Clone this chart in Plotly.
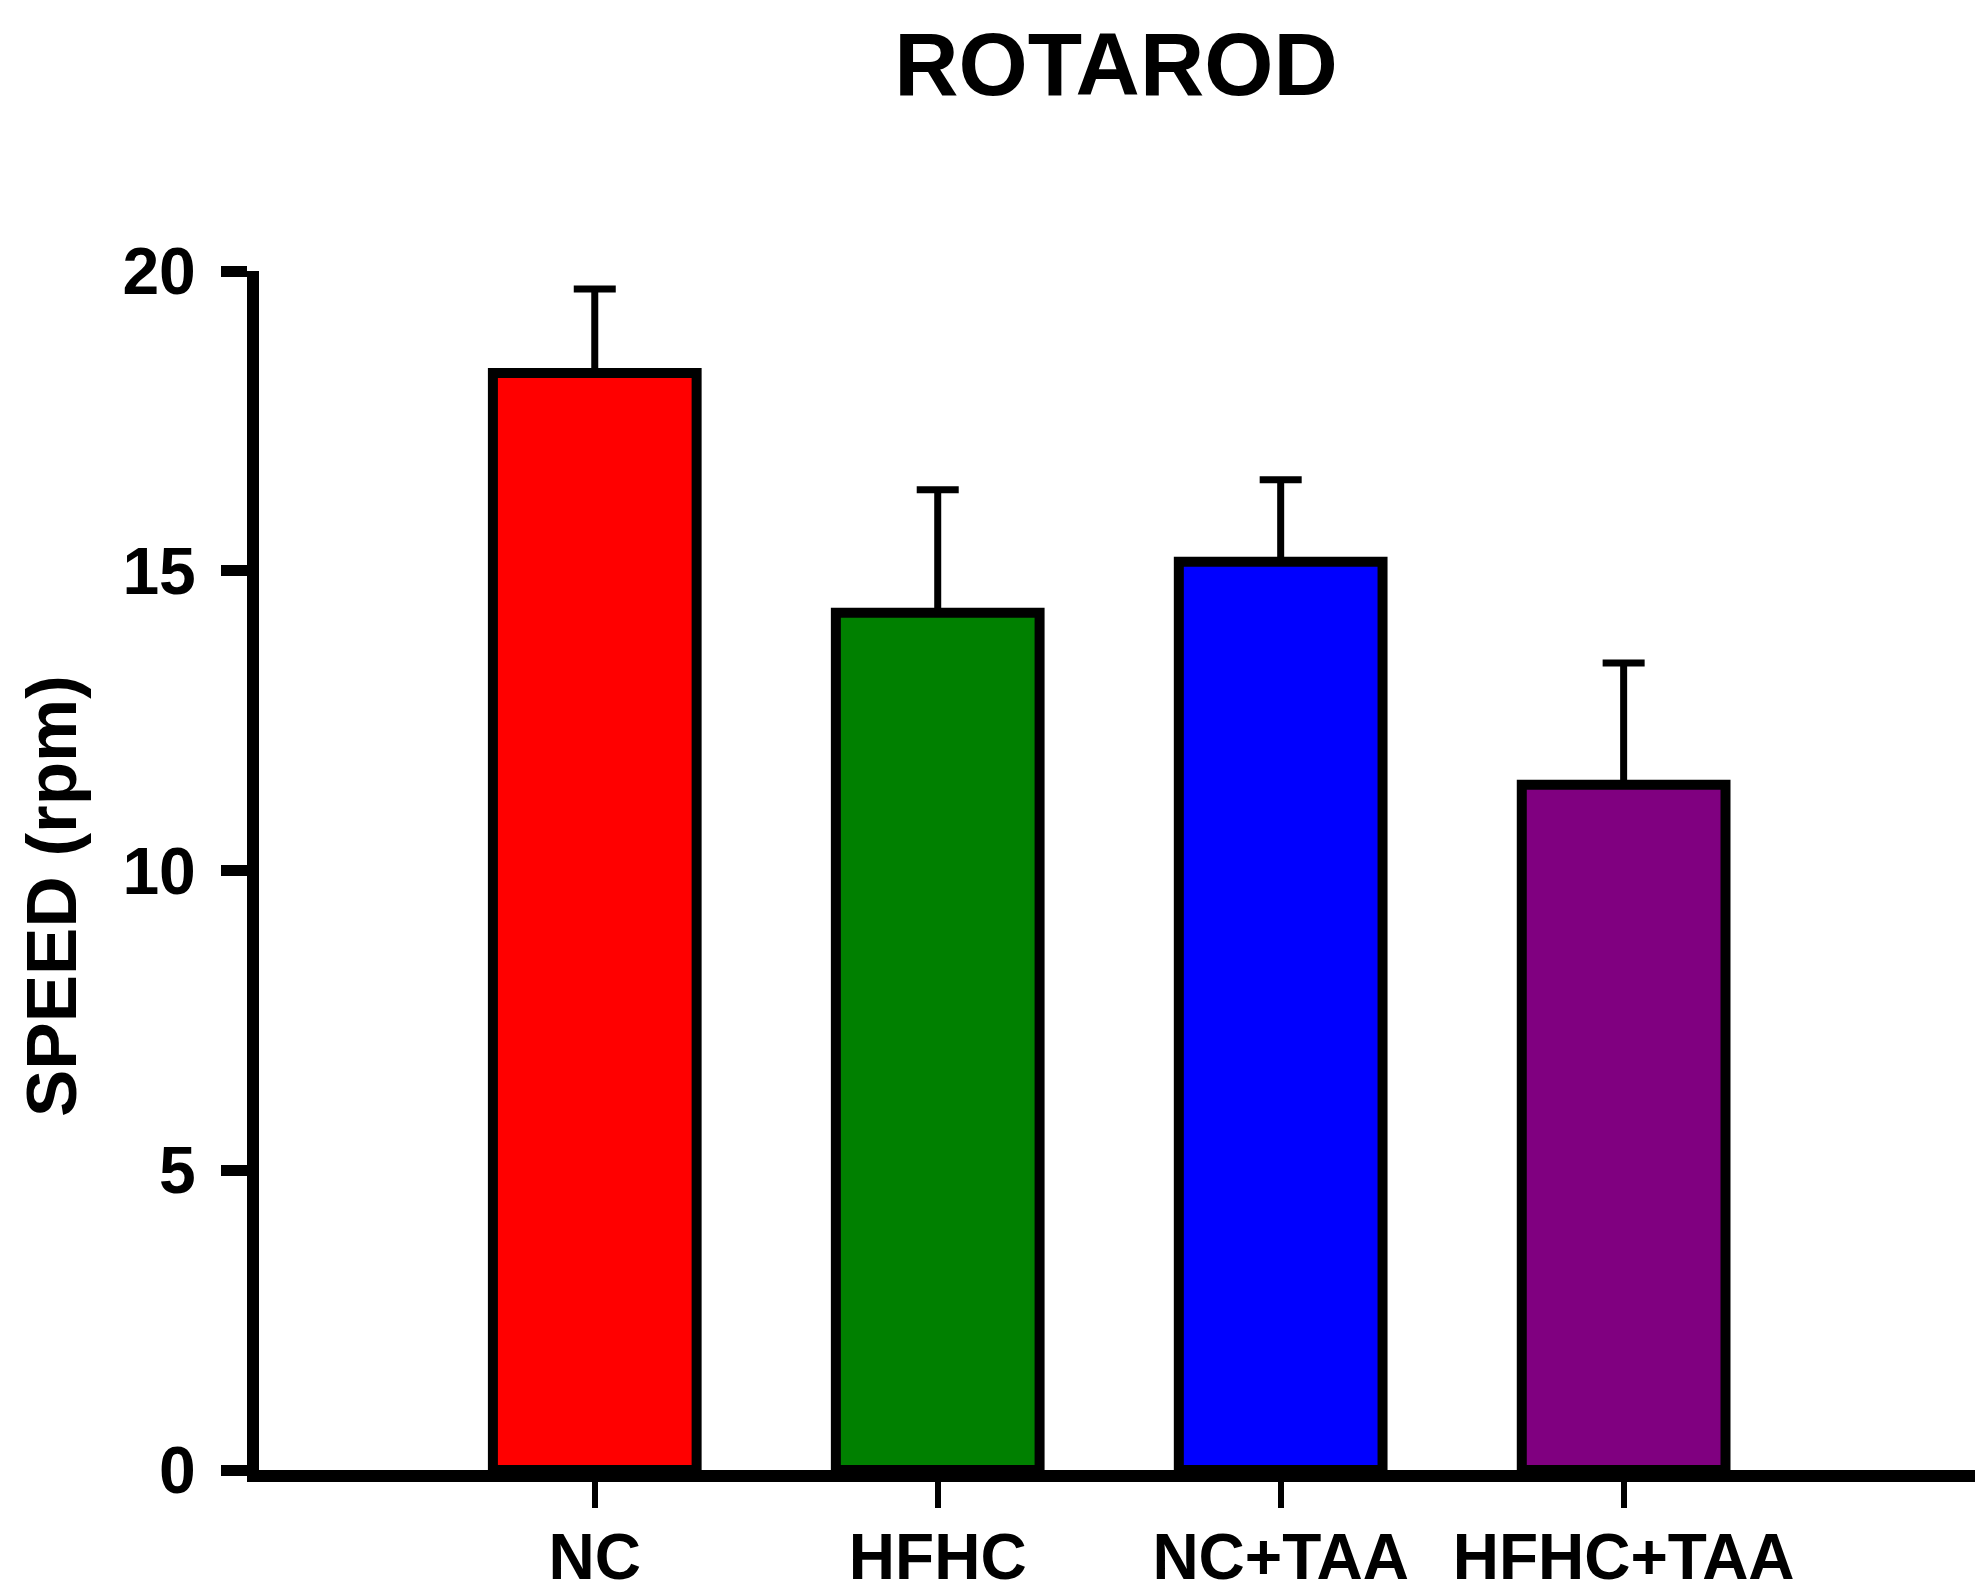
import plotly.graph_objects as go

categories = ["NC", "HFHC", "NC+TAA", "HFHC+TAA"]
speed_mean = [18.3, 14.3, 15.15, 11.43]
speed_sem = [1.4, 2.05, 1.37, 2.03]
bar_colors = ["#FF0000", "#008000", "#0000FF", "#800080"]
y_ticks = [0, 5, 10, 15, 20]

FONT = "Liberation Sans, Arial, Helvetica, sans-serif"

fig = go.Figure()
fig.add_trace(go.Bar(
    x=categories,
    y=speed_mean,
    width=0.594,
    marker=dict(color=bar_colors, line=dict(color="black", width=10)),
    error_y=dict(type="data", array=speed_sem, arrayminus=[0] * len(speed_sem),
                 symmetric=False, color="black", thickness=7, width=21),
    showlegend=False,
))

fig.add_annotation(
    text="SPEED (rpm)", textangle=-90,
    xref="paper", x=0, xanchor="center", xshift=-208,
    yref="paper", y=0.4787, yanchor="middle",
    showarrow=False,
    font=dict(family=FONT, size=71, color="black", weight="bold"),
)

fig.update_layout(
    width=1983, height=1594,
    margin=dict(l=251, r=10, t=263, b=132, autoexpand=False),
    plot_bgcolor="white", paper_bgcolor="white",
    title=dict(text="ROTAROD", x=1108 / 1983, xref="container", xanchor="center",
               y=1 - 56 / 1594, yref="container", yanchor="middle",
               font=dict(family=FONT, size=89, color="black", weight="bold")),
    xaxis=dict(
        type="category", range=[-0.979, 4.042],
        showline=True, linecolor="black", linewidth=12,
        ticks="outside", ticklen=26, tickwidth=6, tickcolor="black",
        tickfont=dict(family=FONT, size=64, color="black", weight="bold"),
        ticklabelstandoff=-6,
        showgrid=False, zeroline=False,
    ),
    yaxis=dict(
        range=[0, 20], tickvals=y_ticks,
        showline=True, linecolor="black", linewidth=12,
        ticks="outside", ticklen=26, tickwidth=11, tickcolor="black",
        tickfont=dict(family=FONT, size=66, color="black", weight="bold"),
        ticklabelstandoff=12,
        showgrid=False, zeroline=False,
    ),
)

fig.write_html("out.html")
